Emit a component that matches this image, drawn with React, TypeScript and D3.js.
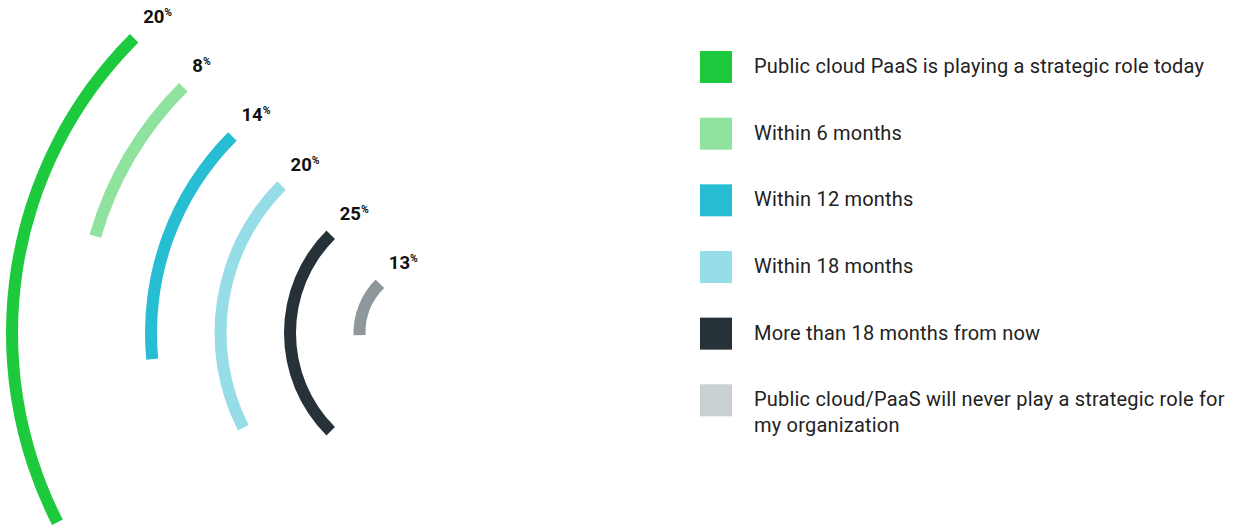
import React from "react";
import * as d3 from "d3";

const categories = [
  "Public cloud PaaS is playing a strategic role today",
  "Within 6 months",
  "Within 12 months",
  "Within 18 months",
  "More than 18 months from now",
  "Public cloud/PaaS will never play a strategic role for my organization",
];
const values = [20, 8, 14, 20, 25, 13];
const arcColors = ["#1dc93d", "#90e39f", "#27bed3", "#96dde7", "#263238", "#8e979b"];
const legendColors = ["#1dc93d", "#90e39f", "#27bed3", "#96dde7", "#263238", "#c8d0d2"];

const W = 1238;
const H = 525;
const cx = 429;
const cy = 333;
const thickness = 12;
const startAngle = -Math.PI / 4;

function wrap(text: string, maxChars: number): string[] {
  const words = text.split(" ");
  const lines: string[] = [];
  let cur = "";
  for (const w of words) {
    const next = cur ? cur + " " + w : w;
    if (next.length > maxChars && cur) {
      lines.push(cur);
      cur = w;
    } else cur = next;
  }
  if (cur) lines.push(cur);
  return lines;
}

export default function App() {
  const rScale = d3.scalePoint<string>().domain(categories).range([417, 69.5]);
  const aScale = d3.scaleLinear().domain([0, 100]).range([0, 2 * Math.PI]);
  const arcGen = d3.arc<any>();
  const legendY = d3.scalePoint<string>().domain(categories).range([51, 384.3]);

  return (
    <svg
      width={W}
      height={H}
      style={{ position: "absolute", left: 0, top: 0, fontFamily: "Roboto, 'Noto Sans', sans-serif" }}
    >
      <g>
        {categories.map((c, i) => {
          const r = rScale(c) as number;
          const d = arcGen({
            innerRadius: r - thickness / 2,
            outerRadius: r + thickness / 2,
            startAngle: startAngle,
            endAngle: startAngle - aScale(values[i]),
          }) as string;
          const ex = cx - r / Math.SQRT2;
          const ey = cy - r / Math.SQRT2;
          return (
            <g key={c}>
              <path d={d} transform={`translate(${cx},${cy})`} fill={arcColors[i]} />
              <text x={ex + 9} y={ey - 15} fontSize={18.5} fontWeight="bold" fill="#111">
                {values[i]}
                <tspan fontSize={10.5} dy={-7}>%</tspan>
              </text>
            </g>
          );
        })}
      </g>
      <g>
        {categories.map((c, i) => {
          const y = legendY(c) as number;
          const lines = wrap(c, 56);
          return (
            <g key={c}>
              <rect x={700} y={y} width={32} height={32} fill={legendColors[i]} />
              <text x={754} y={y + 22} fontSize={20} letterSpacing={0.2} fill="#222">
                {lines.map((l, j) => (
                  <tspan key={j} x={754} dy={j === 0 ? 0 : 26}>
                    {l}
                  </tspan>
                ))}
              </text>
            </g>
          );
        })}
      </g>
    </svg>
  );
}
